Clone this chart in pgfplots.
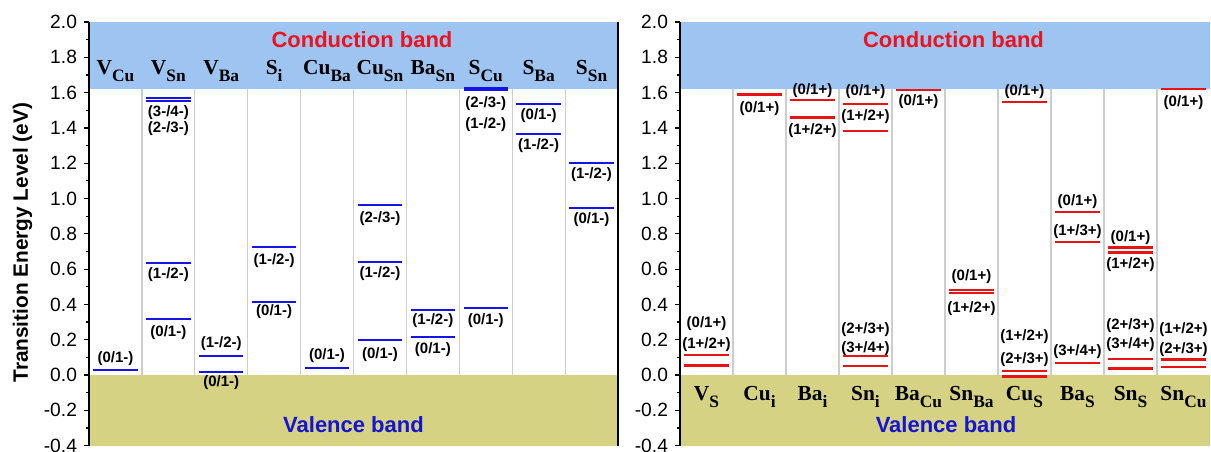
\documentclass[border=0pt]{standalone}
\usepackage{pgfplots}
\pgfplotsset{compat=1.18}
\usepackage{pgfplotstable}
\usepackage{fontspec}
\setmainfont{Liberation Sans}
\newfontfamily\serifb{Liberation Serif}
\definecolor{cb}{RGB}{158,196,242}
\definecolor{vb}{RGB}{213,210,131}
\definecolor{lblue}{RGB}{20,20,230}
\definecolor{lred}{RGB}{230,20,20}
\definecolor{txtred}{RGB}{235,20,30}
\definecolor{txtblue}{RGB}{20,20,210}
\definecolor{divg}{RGB}{205,205,205}
\newcommand{\cat}[2]{{\serifb\bfseries\fontsize{10.7}{12}\selectfont #1\raisebox{-3.7pt}{\fontsize{8.7}{10}\selectfont #2}}}
\pgfplotsset{
 panel/.style={
  scale only axis, width=264.5pt, height=211.8pt,
  xmin=0,xmax=10,ymin=-0.4,ymax=2.0,
  hide x axis, axis on top,
  ytick distance=0.2, minor y tick num=1,
  ytick pos=left, tick align=outside,
  major tick length=2.5pt, minor tick length=1.5pt,
  tick style={black, line width=0.6pt},
  axis line style={black, line width=0.8pt},
  yticklabel style={font=\fontsize{9.6}{11}\selectfont,
    /pgf/number format/fixed, /pgf/number format/fixed zerofill,
    /pgf/number format/precision=1, /pgf/number format/assume math mode=true},
  clip=false,
 },
}
\tikzset{
 lbl/.style={font=\bfseries\fontsize{7.5}{8}\selectfont, inner sep=0pt},
 band/.style={font=\bfseries\fontsize{11}{13}\selectfont, inner sep=0pt},
}
\pgfplotstableread{
x y
0.5 0.030
1.5 1.567
1.5 1.552
1.5 0.633
1.5 0.316
2.5 0.108
2.5 0.015
3.5 0.725
3.5 0.412
4.5 0.038
5.5 0.963
5.5 0.640
5.5 0.197
6.5 0.370
6.5 0.215
7.5 1.628
7.5 1.612
7.5 0.378
8.5 1.537
8.5 1.367
9.5 1.203
9.5 0.946
}\leftlevels
\pgfplotstableread{
x y
0.5 0.113
0.5 0.053
1.5 1.590
2.5 1.558
2.5 1.460
3.5 1.537
3.5 1.382
3.5 0.108
3.5 0.051
4.5 1.615
5.5 0.482
5.5 0.466
6.5 1.548
6.5 0.024
6.5 -0.009
7.5 0.922
7.5 0.754
7.5 0.068
8.5 0.723
8.5 0.695
8.5 0.089
8.5 0.036
9.5 1.620
9.5 0.087
9.5 0.045
}\rightlevels
\begin{document}
\begin{tikzpicture}
\useasboundingbox (0,0) rectangle (605.5pt,225.5pt);
% ---------------- left panel
\begin{axis}[panel, at={(44.5pt,2.7pt)}, anchor=south west]
\addplot[fill=cb, draw=none] coordinates {(0,1.62) (10,1.62) (10,2.0) (0,2.0)} -- cycle;
\addplot[fill=vb, draw=none] coordinates {(0,-0.4) (10,-0.4) (10,0) (0,0)} -- cycle;
\pgfplotsinvokeforeach{1,...,9}{\addplot[divg, line width=0.6pt] coordinates {(#1,0) (#1,1.62)};}
\addplot[only marks, mark=-, mark size=11.1pt, mark options={lblue, line width=1pt}] table[x=x,y=y] {\leftlevels};
\node[rotate=90, font=\bfseries\fontsize{10.4}{12}\selectfont] at (rel axis cs:-0.1257,0.479) {Transition Energy Level (eV)};
\node[band, text=txtred] at (axis cs:5.16,1.90) {Conduction band};
\node[band, text=txtblue] at (axis cs:5.0,-0.283) {Valence band};
\node[anchor=base] at (axis cs:0.5,1.705) {\cat{V}{Cu}};
\node[anchor=base] at (axis cs:1.5,1.705) {\cat{V}{Sn}};
\node[anchor=base] at (axis cs:2.5,1.705) {\cat{V}{Ba}};
\node[anchor=base] at (axis cs:3.5,1.705) {\cat{S}{i}};
\node[anchor=base] at (axis cs:4.5,1.705) {\cat{Cu}{Ba}};
\node[anchor=base] at (axis cs:5.5,1.705) {\cat{Cu}{Sn}};
\node[anchor=base] at (axis cs:6.5,1.705) {\cat{Ba}{Sn}};
\node[anchor=base] at (axis cs:7.5,1.705) {\cat{S}{Cu}};
\node[anchor=base] at (axis cs:8.5,1.705) {\cat{S}{Ba}};
\node[anchor=base] at (axis cs:9.5,1.705) {\cat{S}{Sn}};
\node[lbl] at (axis cs:0.5,0.094) {(0/1-)};
\node[lbl] at (axis cs:1.5,1.486) {(3-/4-)};
\node[lbl] at (axis cs:1.5,1.398) {(2-/3-)};
\node[lbl] at (axis cs:1.5,0.567) {(1-/2-)};
\node[lbl] at (axis cs:1.5,0.242) {(0/1-)};
\node[lbl] at (axis cs:2.5,0.180) {(1-/2-)};
\node[lbl] at (axis cs:2.5,-0.044) {(0/1-)};
\node[lbl] at (axis cs:3.5,0.648) {(1-/2-)};
\node[lbl] at (axis cs:3.5,0.359) {(0/1-)};
\node[lbl] at (axis cs:4.5,0.108) {(0/1-)};
\node[lbl] at (axis cs:5.5,0.884) {(2-/3-)};
\node[lbl] at (axis cs:5.5,0.576) {(1-/2-)};
\node[lbl] at (axis cs:5.5,0.113) {(0/1-)};
\node[lbl] at (axis cs:6.5,0.306) {(1-/2-)};
\node[lbl] at (axis cs:6.5,0.146) {(0/1-)};
\node[lbl] at (axis cs:7.5,1.535) {(2-/3-)};
\node[lbl] at (axis cs:7.5,1.420) {(1-/2-)};
\node[lbl] at (axis cs:7.5,0.310) {(0/1-)};
\node[lbl] at (axis cs:8.5,1.471) {(0/1-)};
\node[lbl] at (axis cs:8.5,1.297) {(1-/2-)};
\node[lbl] at (axis cs:9.5,1.137) {(1-/2-)};
\node[lbl] at (axis cs:9.5,0.882) {(0/1-)};
\end{axis}
% ---------------- right panel
\begin{axis}[panel, at={(340pt,2.7pt)}, anchor=south west, width=265pt, axis y line*=left]
\addplot[fill=cb, draw=none] coordinates {(0,1.62) (10,1.62) (10,2.0) (0,2.0)} -- cycle;
\addplot[fill=vb, draw=none] coordinates {(0,-0.4) (10,-0.4) (10,0) (0,0)} -- cycle;
\pgfplotsinvokeforeach{1,...,9}{\addplot[divg, line width=0.6pt] coordinates {(#1,0) (#1,1.62)};}
\addplot[only marks, mark=-, mark size=11.1pt, mark options={lred, line width=1.2pt}] table[x=x,y=y] {\rightlevels};
\node[band, text=txtred] at (axis cs:5.16,1.90) {Conduction band};
\node[band, text=txtblue] at (axis cs:5.02,-0.283) {Valence band};
\node[anchor=base] at (axis cs:0.5,-0.142) {\cat{V}{S}};
\node[anchor=base] at (axis cs:1.5,-0.142) {\cat{Cu}{i}};
\node[anchor=base] at (axis cs:2.5,-0.142) {\cat{Ba}{i}};
\node[anchor=base] at (axis cs:3.5,-0.142) {\cat{Sn}{i}};
\node[anchor=base] at (axis cs:4.5,-0.142) {\cat{Ba}{Cu}};
\node[anchor=base] at (axis cs:5.5,-0.142) {\cat{Sn}{Ba}};
\node[anchor=base] at (axis cs:6.5,-0.142) {\cat{Cu}{S}};
\node[anchor=base] at (axis cs:7.5,-0.142) {\cat{Ba}{S}};
\node[anchor=base] at (axis cs:8.5,-0.142) {\cat{Sn}{S}};
\node[anchor=base] at (axis cs:9.5,-0.142) {\cat{Sn}{Cu}};
\node[lbl] at (axis cs:0.5,0.289) {(0/1+)};
\node[lbl] at (axis cs:0.5,0.174) {(1+/2+)};
\node[lbl] at (axis cs:1.5,1.511) {(0/1+)};
\node[lbl] at (axis cs:2.5,1.611) {(0/1+)};
\node[lbl] at (axis cs:2.5,1.384) {(1+/2+)};
\node[lbl] at (axis cs:3.5,1.605) {(0/1+)};
\node[lbl] at (axis cs:3.5,1.463) {(1+/2+)};
\node[lbl] at (axis cs:3.5,0.259) {(2+/3+)};
\node[lbl] at (axis cs:3.5,0.151) {(3+/4+)};
\node[lbl] at (axis cs:4.5,1.548) {(0/1+)};
\node[lbl] at (axis cs:5.5,0.557) {(0/1+)};
\node[lbl] at (axis cs:5.5,0.378) {(1+/2+)};
\node[lbl] at (axis cs:6.5,1.605) {(0/1+)};
\node[lbl] at (axis cs:6.5,0.217) {(1+/2+)};
\node[lbl] at (axis cs:6.5,0.089) {(2+/3+)};
\node[lbl] at (axis cs:7.5,0.982) {(0/1+)};
\node[lbl] at (axis cs:7.5,0.812) {(1+/3+)};
\node[lbl] at (axis cs:7.5,0.132) {(3+/4+)};
\node[lbl] at (axis cs:8.5,0.780) {(0/1+)};
\node[lbl] at (axis cs:8.5,0.627) {(1+/2+)};
\node[lbl] at (axis cs:8.5,0.278) {(2+/3+)};
\node[lbl] at (axis cs:8.5,0.170) {(3+/4+)};
\node[lbl] at (axis cs:9.5,1.543) {(0/1+)};
\node[lbl] at (axis cs:9.5,0.255) {(1+/2+)};
\node[lbl] at (axis cs:9.5,0.142) {(2+/3+)};
\end{axis}
\end{tikzpicture}
\end{document}
